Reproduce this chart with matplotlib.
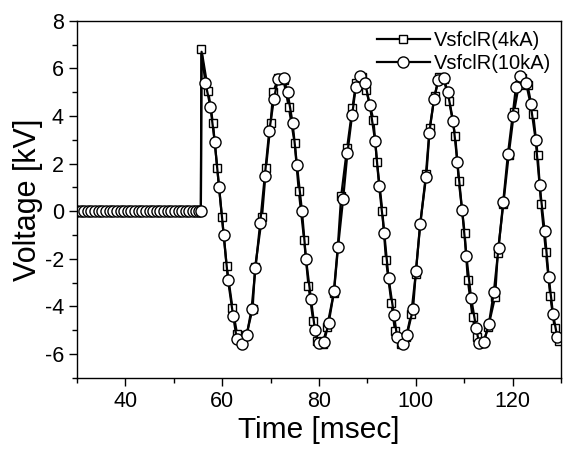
import matplotlib
matplotlib.use("Agg")
import matplotlib.pyplot as plt
from matplotlib.ticker import MultipleLocator

plt.rcParams['font.family'] = ['Liberation Sans', 'DejaVu Sans']
plt.rcParams['axes.unicode_minus'] = False

# до аварії: напруга нульова (обидві серії)
pre_t = [30.0, 30.75, 31.5, 32.25, 33.0, 33.75, 34.5, 35.25, 36.0, 36.75,
         37.5, 38.25, 39.0, 39.75, 40.5, 41.25, 42.0, 42.75, 43.5, 44.25,
         45.0, 45.75, 46.5, 47.25, 48.0, 48.75, 49.5, 50.25, 51.0, 51.75,
         52.5, 53.2, 53.9, 54.6, 55.2, 55.6]
pre_v = [0.0] * len(pre_t)

# VsfclR(4kA)
t_4ka = [55.71, 57.12, 58.09, 58.99, 59.96, 60.92, 62.12, 63.08, 64.05, 65.02,
         66.29, 66.81, 68.23, 69.05, 70.01, 70.54, 71.6, 72.7, 73.74, 75.0,
         75.83, 76.94, 77.84, 78.81, 79.7, 80.75, 81.7, 83.05, 83.9, 84.6,
         85.81, 86.93, 87.68, 88.87, 89.76, 91.25, 92.0, 93.11, 93.86, 94.98,
         95.72, 96.99, 98.0, 99.08, 100.0, 100.9, 102.21, 102.9, 103.9, 104.9,
         105.8, 106.9, 108.17, 108.91, 110.1, 110.77, 111.74, 112.6, 113.98, 115.0,
         116.4, 116.95, 118.1, 119.2, 120.3, 121.3, 122.0, 123.1, 124.26, 125.2,
         125.9, 126.9, 127.8, 128.7, 129.6]
v_4ka = [6.8, 5.05, 3.7, 1.8, -0.25, -2.3, -4.05, -5.15, -5.45, -5.2,
         -4.1, -2.35, -0.25, 1.8, 3.7, 5.0, 5.6, 5.5, 4.4, 2.85,
         0.85, -1.2, -3.15, -4.6, -5.45, -5.6, -4.85, -3.45, -1.5, 0.65,
         2.65, 4.35, 5.4, 5.65, 5.1, 3.85, 2.05, 0.0, -2.05, -3.85,
         -5.05, -5.6, -5.3, -4.3, -2.65, -0.55, 1.55, 3.5, 4.85, 5.65,
         5.55, 4.65, 3.15, 1.25, -0.9, -2.9, -4.45, -5.3, -5.55, -4.85,
         -3.6, -1.75, 0.3, 2.35, 4.15, 5.3, 5.6, 5.3, 4.1, 2.35,
         0.3, -1.7, -3.55, -4.9, -5.45]

# VsfclR(10kA)
t_10ka = [55.75, 56.53, 57.57, 58.47, 59.36, 60.33, 61.22, 62.27, 63.01, 64.13,
          65.1, 66.07, 66.89, 67.85, 68.82, 69.72, 70.69, 71.51, 72.7, 73.52,
          74.56, 75.45, 76.5, 77.32, 78.36, 79.18, 80.0, 81.04, 82.01, 83.13,
          83.95, 84.99, 85.89, 86.86, 87.6, 88.49, 89.54, 90.51, 91.62, 92.44,
          93.49, 94.38, 95.5, 96.17, 97.29, 98.18, 99.45, 100.04, 100.94, 102.06,
          102.8, 103.77, 104.59, 105.78, 106.6, 107.72, 108.61, 109.58, 110.48, 111.45,
          112.49, 113.08, 114.05, 115.1, 116.14, 117.11, 118.08, 119.05, 120.01, 120.69,
          121.65, 122.77, 123.74, 124.78, 125.6, 126.65, 127.47, 128.36, 129.26]
v_10ka = [6.7, 5.4, 4.4, 2.9, 1.0, -1.0, -2.9, -4.4, -5.35, -5.6,
          -5.2, -4.1, -2.4, -0.5, 1.5, 3.35, 4.7, 5.55, 5.6, 5.0,
          3.7, 1.95, 0.0, -2.0, -3.7, -5.0, -5.55, -5.5, -4.7, -3.35,
          -1.5, 0.5, 2.45, 4.05, 5.2, 5.7, 5.4, 4.45, 2.95, 1.05,
          -0.9, -2.8, -4.35, -5.3, -5.6, -5.2, -4.1, -2.5, -0.55, 1.45,
          3.3, 4.7, 5.5, 5.6, 5.0, 3.8, 2.05, 0.05, -1.9, -3.65,
          -4.9, -5.55, -5.5, -4.75, -3.4, -1.55, 0.4, 2.4, 4.0, 5.2,
          5.7, 5.4, 4.5, 3.0, 1.1, -0.85, -2.75, -4.3, -5.3]

x4 = pre_t + t_4ka
y4 = pre_v + v_4ka
x10 = pre_t + t_10ka
y10 = pre_v + v_10ka
# точка піку 10kA без маркера
marks10 = [i for i in range(len(x10)) if i != len(pre_t)]

fig = plt.figure(figsize=(5.66, 4.53), dpi=100)
ax = fig.add_axes([0.136, 0.166, 0.855, 0.788])

ax.plot(x4, y4, color='black', lw=1.6, marker='s', ms=6,
        mfc='white', mec='black', mew=1.0, label='VsfclR(4kA)')
ax.plot(x10, y10, color='black', lw=1.6, marker='o', ms=8,
        mfc='white', mec='black', mew=1.0, markevery=marks10,
        label='VsfclR(10kA)')

ax.set_xlim(30, 130)
ax.set_ylim(-7, 8)
ax.xaxis.set_major_locator(MultipleLocator(20))
ax.xaxis.set_minor_locator(MultipleLocator(10))
ax.yaxis.set_major_locator(MultipleLocator(2))
ax.yaxis.set_minor_locator(MultipleLocator(1))
ax.tick_params(which='major', direction='out', length=6, width=1, labelsize=15.5)
ax.tick_params(which='minor', direction='out', length=3.5, width=1)
for s in ax.spines.values():
    s.set_linewidth(1)

ax.set_xlabel('Time [msec]', fontsize=21.5, labelpad=3)
ax.set_ylabel('Voltage [kV]', fontsize=22, labelpad=1)

ax.legend(loc='upper right', frameon=False, fontsize=14.5, handlelength=2.6,
          handletextpad=0.2, labelspacing=0.2, borderaxespad=0.2,
          borderpad=0.3)

fig.savefig('out.png', dpi=100)
